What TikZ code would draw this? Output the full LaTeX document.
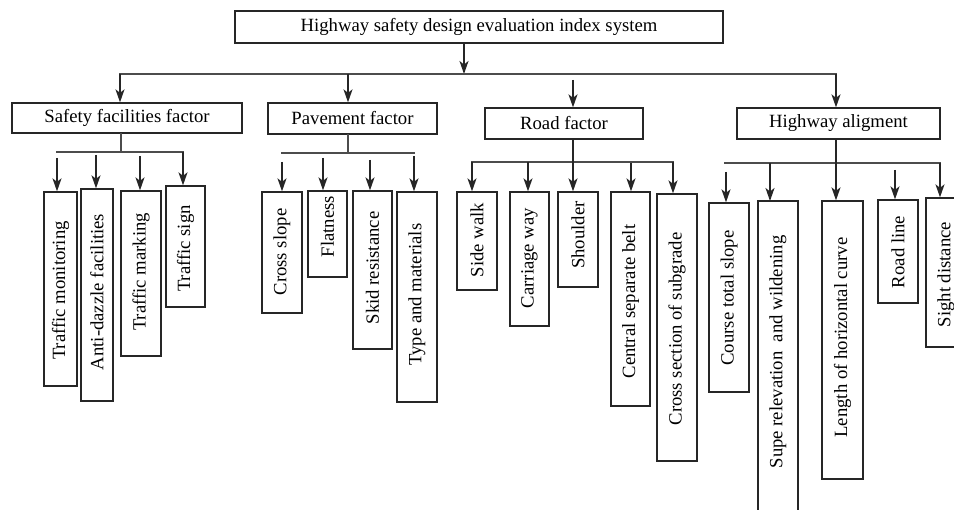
\documentclass[tikz,border=0pt]{standalone}
\usepackage{fontspec}
\setmainfont{Liberation Serif}
\usetikzlibrary{arrows.meta}
\newcommand{\VBox}[7]{%
  \node[vbox, minimum width={#4-#2}, minimum height={#5-#3}] (#1) at ({(#2+#4)/2},{(#3+#5)/2}) {};
  \node[vtext] (#1t) at ({(#2+#4)/2},#6) {#7};}
\begin{document}
\begin{tikzpicture}[x=1pt,y=-1pt,
  every node/.style={font=\fontsize{18.7}{20}\selectfont},
  hbox/.style={draw=black!85, line width=1.3pt, inner sep=0pt},
  vbox/.style={draw=black!85, line width=1.3pt, inner sep=0pt},
  vtext/.style={rotate=90, inner sep=0pt, anchor=center},
  conn/.style={draw=black!70, line width=1.4pt, line cap=rect},
  arr/.style={draw=black!85, line width=1.4pt, -{Stealth[length=13pt,width=9pt,inset=3.5pt]}}]
\useasboundingbox (0,0) rectangle (954,510);
\clip (0,0) rectangle (954,510);
\fill[white] (0,0) rectangle (954,510);

% top box
\node[hbox, minimum width=488, minimum height=32] (top) at (479,27) {Highway safety design evaluation index system};

% first level boxes
\node[hbox, minimum width=230, minimum height=30] (sf) at (127,118) {Safety facilities factor};
\node[hbox, minimum width=169, minimum height=31] (pf) at (352.5,118.5) {Pavement factor};
\node[hbox, minimum width=158, minimum height=31] (rf) at (564,123.5) {Road factor};
\node[hbox, minimum width=203, minimum height=31] (ha) at (838.5,123.5) {Highway aligment};

% main bus
\coordinate (t0) at (464,74);
\coordinate (mL) at (120,74);
\coordinate (mR) at (836,74);
\coordinate (mP) at (348,74);
\coordinate (mRd) at (573,80);
\draw[arr] (t0 |- top.south) -- (t0);
\draw[conn] (mL) -- (mR);
\draw[arr] (mL) -- (mL |- sf.north);
\draw[arr] (mP) -- (mP |- pf.north);
\draw[arr] (mRd) -- (mRd |- rf.north);
\draw[arr] (mR) -- (mR |- ha.north);

% safety facilities
\VBox{s1}{44}{192}{77}{386}{290.5}{Traffic monitoring}
\VBox{s2}{81}{189}{113}{401}{292}{Anti-dazzle facilities}
\VBox{s3}{121}{191}{161}{356}{272}{Traffic marking}
\VBox{s4}{166}{186}{205}{307}{248.5}{Traffic sign}
\coordinate (sS) at (121,152);
\coordinate (sL) at (57,152);
\coordinate (sR) at (183,152);
\draw[conn] (sS |- sf.south) -- (sS);
\draw[conn] (sL) -- (sR);
\coordinate (sa) at (57,158);
\coordinate (sb) at (96,155);
\coordinate (sc) at (140,156);
\draw[arr] (sa) -- (sa |- s1.north);
\draw[arr] (sb) -- (sb |- s2.north);
\draw[arr] (sc) -- (sc |- s3.north);
\draw[arr] (sR) -- (sR |- s4.north);

% pavement
\VBox{p1}{262}{192}{302}{313}{252}{Cross slope}
\VBox{p2}{308}{191}{347}{277}{226.5}{Flatness}
\VBox{p3}{353}{191}{392}{349}{268}{Skid resistance}
\VBox{p4}{397}{192}{437}{402}{294.7}{Type and materials}
\coordinate (pS) at (348,153);
\coordinate (pL) at (282,153);
\coordinate (pR) at (414,153);
\draw[conn] (pS |- pf.south) -- (pS);
\draw[conn] (pL) -- (pR);
\coordinate (pa) at (282,162);
\coordinate (pb) at (323,158);
\coordinate (pc) at (370,160);
\coordinate (pd) at (414,156);
\draw[arr] (pa) -- (pa |- p1.north);
\draw[arr] (pb) -- (pb |- p2.north);
\draw[arr] (pc) -- (pc |- p3.north);
\draw[arr] (pd) -- (pd |- p4.north);

% road
\VBox{r1}{457}{192}{497}{290}{240}{Side walk}
\VBox{r2}{510}{192}{549}{326}{258}{Carriage way}
\VBox{r3}{558}{192}{598}{287}{235}{Shoulder}
\VBox{r4}{611}{192}{650}{406}{301.5}{Central separate belt}
\VBox{r5}{657}{194}{697}{461}{329}{Cross section of subgrade}
\coordinate (rS) at (573,162);
\coordinate (rL) at (472,162);
\coordinate (rR) at (673,162);
\coordinate (rb) at (528,162);
\coordinate (rd) at (631,163);
\draw[conn] (rL) -- (rR);
\draw[arr] (rS |- rf.south) -- (rS |- r3.north);
\draw[arr] (rL) -- (rL |- r1.north);
\draw[arr] (rb) -- (rb |- r2.north);
\draw[arr] (rd) -- (rd |- r4.north);
\draw[arr] (rR) -- (rR |- r5.north);

% highway alignment
\VBox{h1}{709}{203}{749}{392}{298}{Course total slope}
\draw[vbox] (758,520) -- (758,201) -- (798,201) -- (798,520);
\coordinate (h2) at (778,201);
\node[vtext] (h2t) at (778,352) {Supe relevation\ \ and wildening};
\VBox{h3}{822}{201}{863}{479}{337.5}{Length of horizontal curve}
\VBox{h4}{878}{200}{918}{303}{252}{Road line}
\VBox{h5}{926}{198}{966}{347}{274.5}{Sight distance}
\coordinate (hS) at (836,163);
\coordinate (hL) at (725,163);
\coordinate (hR) at (940,163);
\coordinate (ha1) at (726,172);
\coordinate (hb) at (770,163);
\coordinate (hd) at (895,170);
\draw[conn] (hL) -- (hR);
\draw[arr] (hS |- ha.south) -- (hS |- h3.north);
\draw[arr] (ha1) -- (ha1 |- h1.north);
\draw[arr] (hb) -- (hb |- h2);
\draw[arr] (hd) -- (hd |- h4.north);
\draw[arr] (hR) -- (hR |- h5.north);
\end{tikzpicture}
\end{document}
